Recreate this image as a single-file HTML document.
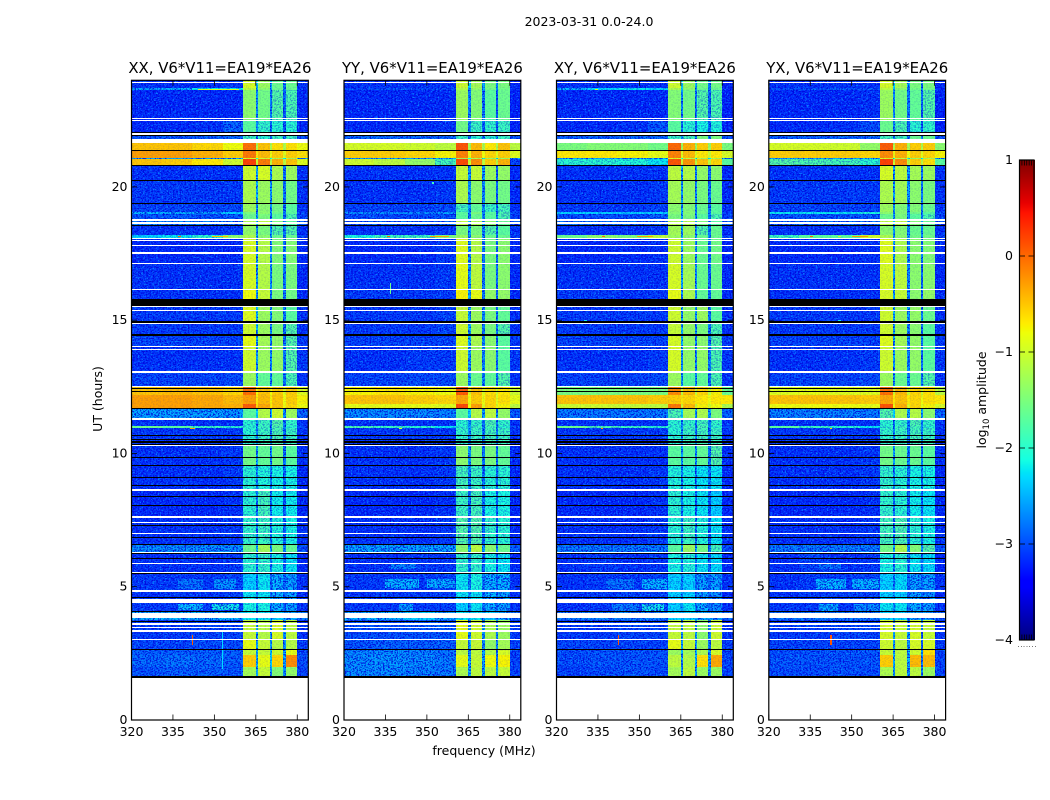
<!DOCTYPE html>
<html>
<head>
<meta charset="utf-8">
<title>2023-03-31 0.0-24.0</title>
<style>
html,body{margin:0;padding:0;background:#fff;}
svg{display:block;}
text{font-family:"DejaVu Sans","Liberation Sans",sans-serif;fill:#000;}
</style>
</head>
<body>
<svg id="chart" xmlns="http://www.w3.org/2000/svg" width="1050" height="800" viewBox="0 0 1050 800">
<defs id="chart-defs">
<filter id="speckLight" x="0" y="0" width="100%" height="100%" color-interpolation-filters="sRGB">
<feTurbulence type="fractalNoise" baseFrequency="0.55 0.75" numOctaves="2" seed="4"/>
<feColorMatrix type="matrix" values="0 0 0 0 0.05  0 0 0 0 0.6  0 0 0 0 1  9 0 0 0 -5.0"/>
</filter>
<filter id="speckDark" x="0" y="0" width="100%" height="100%" color-interpolation-filters="sRGB">
<feTurbulence type="fractalNoise" baseFrequency="0.6 0.7" numOctaves="2" seed="11"/>
<feColorMatrix type="matrix" values="0 0 0 0 0  0 0 0 0 0  0 0 0 0 0.85  0 8 0 0 -3.9"/>
</filter>
</defs>
<rect x="0" y="0" width="1050" height="800" fill="#fff"/>
<text x="589" y="26" font-size="12.5" text-anchor="middle">2023-03-31 0.0-24.0</text>
<text x="484" y="755" font-size="12.5" text-anchor="middle">frequency (MHz)</text>
<text transform="translate(102,399) rotate(-90)" font-size="12.5" text-anchor="middle">UT (hours)</text>
<text transform="translate(986,400) rotate(-90)" font-size="12.5" text-anchor="middle">log<tspan font-size="8.5" dy="3">10</tspan><tspan dy="-3"> amplitude</tspan></text>
<g id="panels"></g>
<g id="colorbar"></g>
</svg>
<script>
// Frequency channel-band edges (MHz) and UT row edges (hours)
const freqEdges = [320,331,342,353,360.4,365,365.8,370,371,375,375.8,380,384];
const timeEdges = [24,23.70,23.62,22.46,21.95,21.63,21.35,21.09,21.03,20.81,20.25,19.38,19.06,18.99,18.80,18.54,18.20,18.09,17.13,16.15,15.80,14.93,14.45,14.00,13.06,12.48,12.20,11.85,11.68,11.29,11.03,10.96,10.30,9.55,8.63,7.62,6.57,6.27,5.53,4.85,4.58,4.07,3.75,3.02,2.64,2.42,2.00,1.62];
const panelTitles = ["XX, V6*V11=EA19*EA26","YY, V6*V11=EA19*EA26","XY, V6*V11=EA19*EA26","YX, V6*V11=EA19*EA26"];
const xTickValues = [320,335,350,365,380];
const yTickValues = [0,5,10,15,20];
const colorbarTicks = [1,0,-1,-2,-3,-4];

// log10 amplitude per UT row (top to bottom) per frequency band
const xxValues = [
[-3.1,-3.1,-3.1,-3.05,-0.95,-2.3,-1.3,-2.4,-1.6,-2.6,-1.6,-3.1],
[-2.5,-2.4,-2.2,-2.2,-1.1,-2.4,-1.4,-2.5,-1.6,-2.6,-1.6,-3.1],
[-3.15,-3.15,-3.15,-3.15,-1.4,-2.6,-1.55,-2.7,-1.75,-2.8,-1.8,-3.15],
[-3.15,-3.15,-3.1,-2.85,-1.7,-2.6,-1.95,-2.8,-2.0,-2.8,-2.0,-3.15],
[-2.9,-2.9,-2.85,-2.8,-1.9,-2.6,-2.0,-2.6,-1.9,-2.6,-1.9,-2.9],
[-0.5,-0.5,-0.6,-0.8,-0.05,-1.2,-0.5,-1.2,-0.65,-1.2,-0.65,-0.8],
[-0.3,-0.3,-0.4,-0.55,-0.1,-0.7,-0.45,-0.8,-0.55,-0.9,-0.55,-0.65],
[-2.5,-2.5,-2.5,-2.4,-0.9,-2.0,-1.0,-2.0,-1.2,-2.2,-1.2,-2.4],
[-0.5,-0.55,-0.7,-1.0,0.2,-1.0,-0.1,-1.1,-0.4,-1.1,-0.5,-0.9],
[-3.1,-3.1,-3.1,-3.1,-1.0,-2.4,-0.95,-2.5,-1.2,-2.7,-1.3,-3.1],
[-3.05,-3.05,-3.05,-3.05,-1.2,-2.4,-1.3,-2.5,-1.4,-2.7,-1.55,-3.1],
[-3.0,-3.0,-3.0,-2.95,-1.3,-2.5,-1.4,-2.6,-1.55,-2.7,-1.7,-3.1],
[-2.4,-2.4,-2.4,-2.3,-1.5,-2.5,-1.4,-2.6,-1.6,-2.7,-1.7,-3.0],
[-2.9,-2.9,-2.9,-2.85,-1.6,-2.5,-1.5,-2.6,-1.7,-2.7,-1.8,-3.0],
[-2.7,-2.7,-2.7,-2.7,-1.2,-2.4,-1.1,-2.5,-1.5,-2.6,-1.7,-2.9],
[-3.1,-3.1,-3.1,-3.05,-1.35,-2.5,-1.5,-2.6,-1.75,-2.7,-1.75,-3.1],
[-2.3,-2.2,-2.0,-1.4,-1.2,-2.4,-1.4,-2.5,-1.6,-2.6,-1.6,-3.0],
[-3.15,-3.15,-3.15,-3.15,-0.95,-2.5,-1.15,-2.6,-1.45,-2.7,-1.45,-3.15],
[-3.1,-3.1,-3.1,-3.1,-0.95,-2.5,-1.15,-2.6,-1.5,-2.7,-1.5,-3.15],
[-3.1,-3.1,-3.1,-3.1,-0.8,-2.5,-1.05,-2.6,-1.5,-2.7,-1.55,-3.15],
[-3.05,-3.05,-3.05,-3.05,-0.9,-2.4,-1.3,-2.5,-1.45,-2.6,-1.7,-3.1],
[-3.05,-3.05,-3.05,-3.05,-1.0,-2.4,-1.3,-2.6,-1.5,-2.7,-1.75,-3.1],
[-3.0,-3.0,-3.0,-3.0,-0.85,-2.4,-1.25,-2.6,-1.35,-2.7,-1.75,-3.05],
[-3.1,-3.1,-3.1,-3.1,-1.0,-2.5,-1.3,-2.6,-1.35,-2.7,-1.75,-3.05],
[-3.0,-3.0,-3.0,-2.95,-1.3,-2.5,-1.65,-2.6,-1.65,-2.7,-1.8,-3.1],
[-0.5,-0.45,-0.5,-0.6,-0.05,-0.8,-0.5,-0.8,-0.55,-0.9,-0.55,-0.9],
[-0.3,-0.3,-0.35,-0.45,-0.3,-0.7,-0.45,-0.75,-0.5,-0.8,-0.55,-0.75],
[-0.3,-0.3,-0.35,-0.4,0.05,-0.6,-0.35,-0.7,-0.5,-0.8,-0.6,-0.8],
[-2.5,-2.5,-2.5,-2.55,-1.7,-2.3,-1.15,-2.4,-1.0,-2.5,-1.3,-2.8],
[-3.1,-3.1,-3.1,-3.1,-2.0,-2.6,-1.9,-2.7,-1.75,-2.7,-1.95,-3.1],
[-1.6,-1.7,-1.9,-2.0,-2.0,-2.5,-1.9,-2.6,-1.8,-2.6,-2.0,-3.0],
[-3.05,-3.05,-3.05,-3.05,-2.0,-2.6,-1.9,-2.7,-1.8,-2.7,-1.9,-3.1],
[-3.1,-3.1,-3.1,-3.05,-1.55,-2.5,-1.65,-2.6,-1.55,-2.7,-1.7,-3.1],
[-3.1,-3.1,-3.1,-3.05,-2.0,-2.6,-2.05,-2.7,-2.1,-2.7,-2.1,-3.15],
[-3.15,-3.15,-3.15,-3.1,-2.0,-2.7,-1.85,-2.7,-2.15,-2.8,-2.15,-3.15],
[-3.1,-3.1,-3.1,-3.05,-1.95,-2.7,-1.9,-2.7,-2.05,-2.8,-2.1,-3.1],
[-2.6,-2.6,-2.6,-2.6,-1.6,-2.4,-1.25,-2.5,-1.5,-2.6,-1.65,-2.9],
[-3.1,-3.1,-3.1,-3.05,-2.0,-2.7,-1.95,-2.7,-2.1,-2.8,-2.2,-3.15],
[-3.05,-3.05,-3.05,-3.0,-2.3,-2.7,-2.2,-2.8,-2.4,-2.8,-2.5,-3.1],
[-3.1,-3.05,-3.05,-3.0,-2.2,-2.6,-2.2,-2.8,-2.4,-2.8,-2.5,-3.15],
[-3.05,-3.05,-3.05,-3.0,-2.1,-2.6,-2.1,-2.7,-2.35,-2.8,-2.5,-3.1],
[-2.4,-2.4,-2.35,-2.4,-2.2,-2.4,-2.2,-2.5,-2.3,-2.5,-2.4,-2.7],
[-3.05,-3.05,-3.0,-3.0,-1.05,-2.5,-1.15,-2.5,-0.95,-2.6,-1.1,-3.1],
[-3.0,-3.0,-2.95,-2.95,-0.85,-2.5,-1.05,-2.5,-1.15,-2.6,-1.15,-3.05],
[-2.85,-2.85,-2.85,-2.85,-1.05,-2.4,-1.05,-2.4,-1.0,-2.5,-0.85,-3.0],
[-2.8,-2.75,-2.8,-2.85,-0.55,-2.4,-0.85,-2.3,-0.6,-2.4,-0.2,-2.95],
[-2.9,-2.85,-2.85,-2.9,-1.25,-2.5,-1.05,-2.5,-1.45,-2.6,-1.35,-3.0]
];
const yyValues = [
[-3.1,-3.1,-3.1,-3.1,-1.0,-2.3,-1.25,-2.4,-1.5,-2.7,-1.5,-3.15],
[-3.0,-2.9,-2.95,-2.95,-1.15,-2.4,-1.35,-2.5,-1.55,-2.7,-1.55,-3.15],
[-3.15,-3.15,-3.15,-3.15,-1.3,-2.6,-1.45,-2.7,-1.7,-2.9,-1.6,-3.2],
[-3.15,-3.15,-3.15,-3.1,-1.55,-2.6,-1.9,-2.8,-1.95,-2.9,-1.9,-3.2],
[-2.8,-2.8,-2.8,-2.8,-1.9,-2.6,-2.0,-2.6,-2.0,-2.6,-1.9,-2.9],
[-0.95,-0.95,-1.0,-1.1,0.1,-1.2,-0.45,-1.2,-0.7,-1.2,-0.5,-1.1],
[-0.55,-0.55,-0.6,-0.75,-0.15,-0.8,-0.4,-0.8,-0.6,-0.9,-0.55,-0.9],
[-2.5,-2.5,-2.5,-2.4,-1.2,-2.0,-1.2,-2.0,-1.3,-2.2,-1.3,-2.4],
[-1.0,-1.1,-1.35,-1.85,0.15,-1.0,-0.2,-1.1,-0.55,-1.1,-0.4,-3.0],
[-3.1,-3.1,-3.1,-3.1,-1.05,-2.4,-1.05,-2.5,-1.3,-2.8,-1.35,-3.15],
[-3.1,-3.1,-3.1,-3.05,-1.2,-2.5,-1.4,-2.6,-1.5,-2.8,-1.55,-3.15],
[-3.0,-3.0,-3.0,-2.95,-1.85,-2.5,-1.65,-2.6,-1.9,-2.7,-1.85,-3.1],
[-2.6,-2.6,-2.6,-2.5,-1.7,-2.5,-1.5,-2.6,-1.7,-2.7,-1.8,-3.0],
[-2.95,-2.95,-2.95,-2.9,-1.7,-2.5,-1.6,-2.6,-1.7,-2.7,-1.8,-3.0],
[-2.85,-2.85,-2.85,-2.8,-1.1,-2.4,-1.2,-2.5,-1.4,-2.6,-1.6,-2.9],
[-3.1,-3.1,-3.1,-3.05,-1.5,-2.5,-1.5,-2.6,-1.75,-2.7,-1.7,-3.1],
[-2.1,-1.9,-1.9,-1.5,-1.3,-2.4,-1.4,-2.5,-1.6,-2.6,-1.6,-3.0],
[-3.15,-3.15,-3.15,-3.05,-0.9,-2.5,-1.15,-2.7,-1.5,-2.8,-1.4,-3.15],
[-3.1,-3.1,-3.1,-3.05,-0.85,-2.5,-1.1,-2.7,-1.5,-2.8,-1.4,-3.15],
[-3.05,-3.05,-3.05,-3.05,-0.75,-2.4,-0.85,-2.7,-1.35,-2.8,-1.35,-3.15],
[-3.05,-3.05,-3.05,-3.0,-1.05,-2.4,-1.3,-2.6,-1.5,-2.7,-1.65,-3.1],
[-3.05,-3.05,-3.05,-3.0,-1.0,-2.4,-1.3,-2.7,-1.5,-2.7,-1.75,-3.1],
[-3.0,-3.0,-3.0,-3.0,-0.9,-2.4,-1.2,-2.6,-1.4,-2.7,-1.7,-3.05],
[-3.1,-3.1,-3.05,-3.05,-1.0,-2.5,-1.3,-2.6,-1.4,-2.7,-1.7,-3.05],
[-3.0,-3.0,-2.95,-2.95,-1.3,-2.5,-1.6,-2.6,-1.65,-2.7,-1.75,-3.1],
[-0.75,-0.7,-0.75,-0.8,0.05,-0.9,-0.5,-0.9,-0.65,-1.0,-0.7,-1.0],
[-0.5,-0.5,-0.55,-0.6,-0.35,-0.8,-0.55,-0.8,-0.6,-0.9,-0.65,-0.85],
[-0.85,-0.85,-0.85,-0.9,0.15,-0.8,-0.3,-0.9,-0.6,-0.9,-0.75,-1.1],
[-2.6,-2.6,-2.6,-2.65,-1.7,-2.3,-1.15,-2.5,-1.1,-2.6,-1.35,-2.85],
[-3.1,-3.1,-3.1,-3.1,-2.0,-2.6,-1.95,-2.7,-1.8,-2.7,-1.95,-3.1],
[-1.8,-1.9,-2.0,-2.2,-2.0,-2.5,-1.9,-2.6,-1.85,-2.6,-2.0,-3.0],
[-3.05,-3.05,-3.05,-3.05,-1.95,-2.6,-1.9,-2.7,-1.85,-2.7,-1.9,-3.1],
[-3.1,-3.1,-3.1,-3.05,-1.4,-2.5,-1.5,-2.7,-1.5,-2.8,-1.65,-3.15],
[-3.1,-3.1,-3.1,-3.05,-1.85,-2.6,-1.9,-2.7,-2.0,-2.8,-2.0,-3.15],
[-3.15,-3.15,-3.15,-3.1,-1.9,-2.7,-1.85,-2.7,-2.1,-2.8,-2.1,-3.15],
[-3.1,-3.1,-3.1,-3.05,-1.75,-2.7,-1.75,-2.8,-1.95,-2.9,-2.0,-3.15],
[-2.5,-2.5,-2.5,-2.5,-1.4,-2.4,-1.1,-2.5,-1.4,-2.6,-1.6,-2.85],
[-3.1,-3.1,-3.05,-3.05,-1.95,-2.7,-1.95,-2.8,-2.1,-2.9,-2.2,-3.15],
[-3.05,-3.05,-3.05,-3.0,-2.2,-2.6,-2.1,-2.7,-2.4,-2.8,-2.4,-3.1],
[-3.1,-3.05,-3.05,-3.0,-2.2,-2.6,-2.2,-2.8,-2.4,-2.8,-2.5,-3.15],
[-3.05,-3.05,-3.05,-3.0,-2.3,-2.6,-2.2,-2.7,-2.4,-2.8,-2.5,-3.1],
[-2.45,-2.4,-2.3,-2.4,-2.2,-2.4,-2.2,-2.5,-2.3,-2.5,-2.4,-2.7],
[-2.95,-2.95,-2.9,-2.9,-0.85,-2.5,-1.0,-2.5,-1.2,-2.7,-1.3,-3.05],
[-2.9,-2.85,-2.85,-2.85,-1.05,-2.4,-1.05,-2.6,-1.35,-2.7,-1.25,-3.0],
[-2.65,-2.6,-2.65,-2.75,-1.1,-2.5,-1.1,-2.5,-1.15,-2.6,-0.95,-3.0],
[-2.6,-2.55,-2.6,-2.7,-0.85,-2.4,-1.05,-2.5,-0.8,-2.6,-0.75,-3.0],
[-2.6,-2.6,-2.65,-2.7,-1.2,-2.4,-1.1,-2.5,-1.1,-2.6,-1.05,-3.0]
];
const xyValues = [
[-3.1,-3.1,-3.1,-3.1,-1.0,-2.3,-1.3,-2.4,-1.55,-2.7,-1.55,-3.15],
[-2.4,-2.3,-2.2,-2.3,-1.2,-2.4,-1.4,-2.5,-1.6,-2.7,-1.6,-3.15],
[-3.15,-3.15,-3.15,-3.15,-1.45,-2.6,-1.55,-2.7,-1.75,-2.8,-1.8,-3.2],
[-3.15,-3.15,-3.1,-2.9,-1.7,-2.6,-2.0,-2.8,-2.1,-2.8,-2.05,-3.2],
[-2.85,-2.85,-2.8,-2.8,-1.9,-2.6,-1.85,-2.6,-1.5,-2.6,-1.5,-2.9],
[-1.5,-1.45,-1.45,-1.55,0.0,-1.3,-0.4,-1.3,-0.55,-1.3,-0.55,-1.5],
[-0.7,-0.7,-0.75,-0.85,-0.15,-0.9,-0.45,-0.9,-0.7,-1.0,-0.7,-0.95],
[-2.5,-2.5,-2.5,-2.4,-0.9,-2.0,-1.1,-2.0,-1.2,-2.2,-1.2,-2.4],
[-2.0,-2.0,-2.05,-2.2,0.1,-1.0,-0.25,-1.1,-0.5,-1.1,-0.6,-1.7],
[-3.1,-3.1,-3.1,-3.1,-1.1,-2.4,-1.15,-2.6,-1.35,-2.7,-1.4,-3.15],
[-3.1,-3.1,-3.1,-3.05,-1.25,-2.5,-1.35,-2.6,-1.5,-2.7,-1.6,-3.15],
[-3.05,-3.05,-3.05,-3.0,-1.4,-2.5,-1.45,-2.6,-1.6,-2.7,-1.7,-3.1],
[-2.3,-2.3,-2.3,-2.3,-1.45,-2.5,-1.45,-2.6,-1.6,-2.7,-1.7,-3.0],
[-2.95,-2.95,-2.95,-2.85,-1.5,-2.5,-1.5,-2.6,-1.7,-2.7,-1.8,-3.0],
[-2.8,-2.8,-2.8,-2.75,-1.15,-2.4,-1.15,-2.5,-1.5,-2.6,-1.7,-2.9],
[-3.1,-3.1,-3.1,-3.05,-1.25,-2.5,-1.3,-2.6,-1.75,-2.7,-1.6,-3.1],
[-1.6,-1.4,-1.5,-1.1,-1.3,-2.4,-1.4,-2.5,-1.6,-2.6,-1.6,-3.0],
[-3.15,-3.15,-3.15,-3.1,-1.0,-2.5,-1.3,-2.6,-1.6,-2.8,-1.55,-3.15],
[-3.1,-3.1,-3.1,-3.1,-0.95,-2.5,-1.25,-2.6,-1.6,-2.8,-1.6,-3.15],
[-3.05,-3.05,-3.1,-3.05,-0.85,-2.5,-1.2,-2.6,-1.65,-2.8,-1.65,-3.15],
[-3.05,-3.05,-3.05,-3.05,-1.0,-2.4,-1.35,-2.5,-1.3,-2.7,-1.7,-3.1],
[-3.05,-3.05,-3.05,-3.05,-1.05,-2.4,-1.35,-2.6,-1.5,-2.7,-1.8,-3.1],
[-3.0,-3.0,-3.0,-3.0,-0.95,-2.4,-1.35,-2.6,-1.4,-2.7,-1.75,-3.05],
[-3.1,-3.1,-3.1,-3.05,-0.95,-2.5,-1.35,-2.6,-1.35,-2.7,-1.8,-3.05],
[-3.0,-3.0,-3.0,-2.95,-1.3,-2.5,-1.7,-2.6,-1.65,-2.7,-1.8,-3.1],
[-1.5,-1.5,-1.5,-1.5,-0.2,-1.1,-0.45,-1.1,-0.6,-1.1,-0.75,-1.6],
[-0.5,-0.5,-0.5,-0.55,-0.55,-0.7,-0.6,-0.7,-0.7,-0.8,-0.7,-0.7],
[-1.0,-1.0,-1.05,-1.1,-0.1,-1.0,-0.45,-1.0,-0.75,-1.0,-0.8,-1.2],
[-2.7,-2.7,-2.7,-2.7,-1.8,-2.3,-1.25,-2.4,-1.2,-2.5,-1.5,-2.8],
[-3.1,-3.1,-3.1,-3.1,-2.0,-2.6,-1.95,-2.7,-1.85,-2.7,-1.95,-3.1],
[-1.6,-1.8,-1.9,-2.0,-2.0,-2.5,-1.9,-2.6,-1.8,-2.6,-2.0,-3.0],
[-3.05,-3.05,-3.05,-3.05,-2.0,-2.6,-1.9,-2.7,-1.85,-2.7,-1.9,-3.1],
[-3.1,-3.1,-3.1,-3.1,-1.7,-2.5,-1.7,-2.6,-1.65,-2.7,-1.75,-3.1],
[-3.1,-3.1,-3.1,-3.05,-2.05,-2.6,-2.1,-2.7,-2.2,-2.7,-2.2,-3.15],
[-3.15,-3.15,-3.15,-3.1,-2.0,-2.7,-2.1,-2.8,-2.2,-2.8,-2.3,-3.15],
[-3.1,-3.1,-3.1,-3.05,-2.0,-2.7,-1.9,-2.7,-2.05,-2.8,-2.2,-3.1],
[-2.7,-2.7,-2.7,-2.7,-1.7,-2.4,-1.3,-2.5,-1.55,-2.6,-1.85,-2.95],
[-3.1,-3.05,-3.1,-3.05,-2.1,-2.7,-2.05,-2.7,-2.2,-2.8,-2.25,-3.15],
[-3.1,-3.05,-3.05,-3.0,-2.3,-2.7,-2.3,-2.8,-2.5,-2.8,-2.5,-3.1],
[-3.1,-3.05,-3.0,-3.0,-2.3,-2.6,-2.3,-2.8,-2.5,-2.8,-2.6,-3.15],
[-3.1,-3.05,-3.05,-3.0,-2.3,-2.6,-2.2,-2.7,-2.4,-2.8,-2.6,-3.1],
[-2.7,-2.65,-2.6,-2.7,-2.3,-2.4,-2.3,-2.5,-2.4,-2.5,-2.5,-2.8],
[-3.05,-3.05,-3.0,-3.0,-1.05,-2.5,-1.1,-2.5,-1.4,-2.6,-1.0,-3.1],
[-3.0,-3.0,-3.0,-3.0,-0.85,-2.5,-1.05,-2.5,-1.3,-2.7,-1.1,-3.05],
[-2.95,-2.9,-2.9,-2.9,-1.3,-2.4,-1.25,-2.4,-1.2,-2.5,-0.95,-3.0],
[-2.95,-2.9,-2.9,-2.9,-1.1,-2.4,-1.15,-2.4,-0.65,-2.5,-0.35,-3.0],
[-3.0,-2.95,-2.9,-2.95,-1.25,-2.5,-1.1,-2.5,-1.3,-2.6,-1.3,-3.0]
];
const yxValues = [
[-3.1,-3.1,-3.1,-3.1,-0.95,-2.3,-1.25,-2.4,-1.5,-2.6,-1.5,-3.15],
[-2.95,-2.9,-2.9,-2.9,-1.1,-2.4,-1.4,-2.5,-1.55,-2.6,-1.55,-3.15],
[-3.15,-3.15,-3.15,-3.1,-1.3,-2.6,-1.55,-2.7,-1.65,-2.8,-1.75,-3.2],
[-3.15,-3.15,-3.1,-2.95,-1.6,-2.6,-1.8,-2.8,-2.0,-2.8,-1.95,-3.2],
[-2.85,-2.85,-2.8,-2.8,-1.85,-2.6,-1.85,-2.6,-1.6,-2.6,-1.6,-2.9],
[-0.95,-0.95,-1.0,-1.35,0.05,-1.2,-0.4,-1.2,-0.55,-1.2,-0.55,-1.4],
[-0.55,-0.55,-0.55,-0.6,-0.2,-0.8,-0.4,-0.8,-0.55,-0.9,-0.6,-0.75],
[-2.5,-2.5,-2.5,-2.4,-0.9,-2.0,-1.1,-2.0,-1.3,-2.2,-1.2,-2.4],
[-1.75,-1.8,-1.85,-2.0,0.2,-1.0,-0.2,-1.1,-0.55,-1.1,-0.65,-1.7],
[-3.1,-3.1,-3.1,-3.1,-0.95,-2.4,-1.1,-2.5,-1.25,-2.7,-1.3,-3.1],
[-3.05,-3.05,-3.05,-3.05,-1.2,-2.4,-1.25,-2.5,-1.4,-2.7,-1.5,-3.1],
[-3.0,-3.0,-3.0,-3.0,-1.3,-2.5,-1.45,-2.6,-1.45,-2.7,-1.6,-3.1],
[-2.2,-2.2,-2.2,-2.1,-1.4,-2.5,-1.45,-2.6,-1.55,-2.7,-1.7,-3.0],
[-2.9,-2.9,-2.9,-2.85,-1.6,-2.5,-1.5,-2.6,-1.7,-2.7,-1.8,-3.0],
[-2.8,-2.8,-2.8,-2.75,-1.1,-2.4,-1.1,-2.5,-1.45,-2.6,-1.6,-2.9],
[-3.1,-3.1,-3.1,-3.05,-1.4,-2.5,-1.45,-2.6,-1.6,-2.7,-1.6,-3.1],
[-1.9,-1.7,-1.7,-1.0,-1.2,-2.4,-1.4,-2.5,-1.55,-2.6,-1.55,-3.0],
[-3.15,-3.15,-3.15,-3.1,-0.9,-2.5,-1.2,-2.6,-1.4,-2.7,-1.45,-3.15],
[-3.1,-3.1,-3.1,-3.1,-0.95,-2.5,-1.1,-2.6,-1.4,-2.7,-1.4,-3.15],
[-3.1,-3.1,-3.1,-3.1,-0.95,-2.5,-1.05,-2.6,-1.4,-2.7,-1.35,-3.15],
[-3.05,-3.05,-3.05,-3.05,-1.0,-2.4,-1.3,-2.5,-1.35,-2.6,-1.6,-3.1],
[-3.05,-3.05,-3.05,-3.05,-1.0,-2.4,-1.3,-2.6,-1.4,-2.7,-1.7,-3.1],
[-3.0,-3.0,-3.0,-3.0,-0.9,-2.4,-1.25,-2.6,-1.35,-2.7,-1.7,-3.05],
[-3.1,-3.1,-3.1,-3.05,-1.0,-2.5,-1.3,-2.6,-1.35,-2.7,-1.7,-3.05],
[-3.0,-3.0,-3.0,-2.95,-1.3,-2.5,-1.6,-2.6,-1.6,-2.7,-1.75,-3.1],
[-0.9,-0.85,-0.9,-0.9,-0.05,-1.0,-0.45,-1.0,-0.6,-1.0,-0.65,-1.1],
[-0.5,-0.5,-0.5,-0.55,-0.35,-0.7,-0.5,-0.7,-0.6,-0.8,-0.65,-0.7],
[-0.8,-0.8,-0.8,-0.85,0.1,-0.8,-0.4,-0.9,-0.6,-0.9,-0.75,-0.95],
[-2.65,-2.65,-2.65,-2.7,-1.75,-2.3,-1.2,-2.4,-1.15,-2.5,-1.4,-2.8],
[-3.1,-3.1,-3.1,-3.1,-2.0,-2.6,-1.95,-2.7,-1.8,-2.7,-1.95,-3.1],
[-1.7,-1.9,-2.0,-2.2,-2.0,-2.5,-1.9,-2.6,-1.85,-2.6,-2.0,-3.0],
[-3.05,-3.05,-3.05,-3.05,-1.95,-2.6,-1.9,-2.7,-1.85,-2.7,-1.9,-3.1],
[-3.1,-3.1,-3.1,-3.05,-1.55,-2.5,-1.6,-2.6,-1.6,-2.7,-1.7,-3.1],
[-3.1,-3.1,-3.1,-3.05,-1.95,-2.6,-2.0,-2.7,-2.1,-2.7,-2.1,-3.15],
[-3.15,-3.15,-3.15,-3.1,-1.95,-2.7,-2.0,-2.8,-2.15,-2.8,-2.2,-3.15],
[-3.1,-3.1,-3.1,-3.05,-1.85,-2.7,-1.8,-2.7,-2.0,-2.8,-2.1,-3.1],
[-2.7,-2.7,-2.7,-2.7,-1.55,-2.4,-1.2,-2.5,-1.45,-2.6,-1.75,-2.95],
[-3.1,-3.0,-3.1,-3.05,-2.1,-2.7,-2.0,-2.7,-2.2,-2.8,-2.25,-3.15],
[-3.1,-3.05,-3.05,-3.0,-2.3,-2.7,-2.25,-2.8,-2.5,-2.8,-2.5,-3.1],
[-3.1,-3.05,-3.0,-3.0,-2.3,-2.6,-2.3,-2.8,-2.5,-2.8,-2.6,-3.15],
[-3.05,-3.05,-3.05,-3.0,-2.2,-2.6,-2.2,-2.7,-2.4,-2.8,-2.5,-3.1],
[-2.75,-2.7,-2.7,-2.7,-2.3,-2.4,-2.3,-2.5,-2.4,-2.5,-2.5,-2.8],
[-3.05,-3.05,-3.0,-3.0,-0.95,-2.5,-1.05,-2.5,-0.95,-2.7,-1.05,-3.1],
[-3.0,-3.0,-3.0,-3.0,-1.0,-2.5,-1.1,-2.5,-0.95,-2.7,-0.95,-3.05],
[-2.95,-2.9,-2.9,-2.9,-1.05,-2.4,-1.1,-2.4,-1.0,-2.5,-0.65,-3.0],
[-2.9,-2.9,-2.9,-2.9,-0.55,-2.4,-1.1,-2.4,-0.45,-2.6,-0.45,-3.0],
[-2.95,-2.95,-2.9,-2.95,-1.2,-2.5,-1.1,-2.5,-1.1,-2.6,-1.3,-3.0]
];
const panelValues = [xxValues,yyValues,xyValues,yxValues];

// Ionospheric / RFI blobs near 4-6 UT: panel, UT top, UT bottom, start MHz, end MHz, log10 amplitude
const blobPanels = [0,0,0,0,1,1,1,1,1,2,2,2,2,3,3,3,3,3];
const blobTop    = [4.35,4.35,5.3,5.3,4.35,5.3,5.3,5.85,5.0,4.35,4.35,5.3,5.3,5.3,5.3,4.35,4.35,5.85];
const blobBottom = [4.12,4.12,4.9,4.9,4.1,4.95,4.95,5.65,4.9,4.1,4.1,4.9,4.9,4.9,4.9,4.1,4.1,5.65];
const blobFreqA  = [337,349,337,350,340,335,350,337,338,340,351,338,351,337,350,338,351,338];
const blobFreqB  = [346,359,346,358,345,347,360,346,345,350,359,348,360,348,360,345,360,346];
const blobValues = [-2.35,-2.15,-2.75,-2.55,-2.5,-2.4,-2.45,-2.65,-2.5,-2.7,-2.15,-2.75,-2.4,-2.4,-2.4,-2.45,-2.6,-2.75];

// Flagged UT intervals: fully white (no data)
const whiteFlagStarts = [23.94,22.57,22.50,22.01,21.80,18.80,18.69,18.09,18.01,17.82,17.56,17.15,16.17,15.54,15.38,14.89,14.03,13.92,13.10,12.53,11.33,10.32,8.67,7.65,7.43,7.02,6.30,5.89,5.57,4.88,4.54,4.03,3.64,3.49,3.38,3.04];
const whiteFlagEnds   = [23.90,22.53,22.46,21.95,21.63,18.74,18.61,18.03,17.97,17.77,17.49,17.11,16.12,15.48,15.35,14.84,13.98,13.88,13.02,12.48,11.26,10.28,8.59,7.58,7.39,6.98,6.27,5.85,5.53,4.82,4.39,3.83,3.58,3.45,3.30,3.00];
// Flagged UT intervals: fully black (zero amplitude)
const blackFlagStarts = [22.05,21.95,21.37,20.83,20.26,19.40,18.56,15.80,14.97,14.48,12.46,12.36,11.71,10.69,10.54,10.45,10.36,9.87,9.57,9.12,8.82,8.41,8.07,7.32,6.87,6.60,6.27,6.08,5.53,4.62,4.09,3.73,2.66,1.65];
const blackFlagEnds   = [22.01,21.91,21.33,20.79,20.23,19.36,18.52,15.54,14.89,14.41,12.42,12.33,11.65,10.66,10.51,10.41,10.32,9.83,9.53,9.08,8.78,8.35,8.03,7.28,6.83,6.55,6.23,6.04,5.50,4.56,4.05,3.68,2.63,1.59];

// Narrow RFI spikes: panel, UT top, UT bottom, start MHz, end MHz, log10 amplitude
const spikePanels = [0,0,0,0,1,1,1,2,2,2,3,3,3,0,2,3,1,2,3,0,1,2,3];
const spikeTop    = [23.67,18.17,18.17,3.2,18.17,18.17,16.4,23.67,18.17,18.17,18.17,18.17,18.17,10.95,10.95,10.95,10.95,3.2,3.2,3.3,20.2,15,15];
const spikeBottom = [23.63,18.11,18.11,2.8,18.11,18.11,16.0,23.63,18.11,18.11,18.11,18.11,18.11,10.9,10.9,10.9,10.9,2.8,2.8,1.9,20.1,14.9,14.9];
const spikeFreqA  = [344,349,337,342,335.5,351,336.5,334,349,336.5,350,335,345,341,336,342,340,342.3,342.3,352.6,352,330,345];
const spikeFreqB  = [359,355,338,342.4,336.5,358,337,335,355,337.5,356,336,346,343,337,343,341,342.7,342.7,352.9,352.4,331,346];
const spikeValues = [-0.95,-0.45,0.0,0.1,0.0,-0.3,-1.6,-0.9,-0.3,0.0,-0.25,0.0,-1.0,-0.3,-0.2,-0.5,-1.0,0.1,0.1,-2.3,-1.9,-2.2,-2.2];

// Axis geometry
const panelLeft = [131.5,344,556.5,768.8];
const panelWidth = 176.8;
const plotTop = 80.3;
const plotBottom = 720;
const freqMin = 320;
const freqMax = 384;
const timeMax = 24;
const cbarLeft = 1019.5;
const cbarRight = 1034;
const cbarTop = 160;
const cbarBottom = 640;
const cbarMin = -4;
const cbarMax = 1;
const faintThreshold = -2.3;
const midThreshold = -1.7;

function xScale(panel, mhz) {
  return panelLeft[panel] + (mhz - freqMin) / (freqMax - freqMin) * panelWidth;
}
function yScale(ut) {
  return plotBottom - ut / timeMax * (plotBottom - plotTop);
}
function cbarScale(v) {
  return cbarBottom - (v - cbarMin) / (cbarMax - cbarMin) * (cbarBottom - cbarTop);
}
function ramp(points, t) {
  for (let i = 1; i < points.length; i++) {
    if (t <= points[i][0]) {
      const a = points[i - 1], b = points[i];
      return a[1] + (b[1] - a[1]) * (t - a[0]) / (b[0] - a[0]);
    }
  }
  return points[points.length - 1][1];
}
function jet(v) {
  const t = Math.max(0, Math.min(1, (v - cbarMin) / (cbarMax - cbarMin)));
  const r = ramp([[0,0],[0.35,0],[0.66,1],[0.89,1],[1,0.5]], t);
  const g = ramp([[0,0],[0.125,0],[0.375,1],[0.64,1],[0.91,0],[1,0]], t);
  const b = ramp([[0,0.5],[0.11,1],[0.34,1],[0.65,0],[1,0]], t);
  return 'rgb(' + Math.round(r * 255) + ',' + Math.round(g * 255) + ',' + Math.round(b * 255) + ')';
}
const NS = 'http://www.w3.org/2000/svg';
function make(tag, attrs, parent) {
  const el = document.createElementNS(NS, tag);
  for (const k in attrs) el.setAttribute(k, attrs[k]);
  parent.appendChild(el);
  return el;
}
function pixelRect(x0, x1, y0, y1, fill, parent) {
  const rx0 = Math.round(x0), rx1 = Math.round(x1), ry0 = Math.round(y0);
  const ry1 = Math.max(ry0 + 1, Math.round(y1));
  return make('rect', {x: rx0, y: ry0, width: Math.max(1, rx1 - rx0), height: ry1 - ry0, fill: fill, 'shape-rendering': 'crispEdges'}, parent);
}

const panelsRoot = document.getElementById('panels');
const defsRoot = document.getElementById('chart-defs');
panelTitles.forEach(function (title, p) {
  const g = make('g', {}, panelsRoot);
  
  

  const faintClip = make('clipPath', {id: 'faint-cells-' + p}, defsRoot);
  const midClip = make('clipPath', {id: 'mid-cells-' + p}, defsRoot);
  const values = panelValues[p];
  values.forEach(function (row, r) {
    row.forEach(function (v, c) {
      const x0 = xScale(p, freqEdges[c]), x1 = xScale(p, freqEdges[c + 1]);
      const y0 = yScale(timeEdges[r]), y1 = yScale(timeEdges[r + 1]);
      const cell = pixelRect(x0, x1, y0, y1, jet(v), g);
      
      
      if (v < faintThreshold) {
        pixelRect(x0, x1, y0, y1, '#000', faintClip);
      } else if (v < midThreshold) {
        pixelRect(x0, x1, y0, y1, '#000', midClip);
      }
    });
  });

  blobPanels.forEach(function (bp, i) {
    if (bp !== p) return;
    const blob = pixelRect(xScale(p, blobFreqA[i]), xScale(p, blobFreqB[i]), yScale(blobTop[i]), yScale(blobBottom[i]), jet(blobValues[i]), g);
    
    
  });

  // grain texture: strong on faint cells, moderate on mid cells, very weak on bright ones
  const grainX = Math.round(xScale(p, freqMin));
  const grainY = Math.round(yScale(timeMax));
  const grainW = Math.round(panelWidth);
  const grainH = Math.round(yScale(timeEdges[timeEdges.length - 1])) - grainY;
  const grainStrong = make('g', {'clip-path': 'url(#faint-cells-' + p + ')'}, g);
  
  
  make('rect', {x: grainX, y: grainY, width: grainW, height: grainH, filter: 'url(#speckLight)', opacity: 0.7}, grainStrong);
  make('rect', {x: grainX, y: grainY, width: grainW, height: grainH, filter: 'url(#speckDark)', opacity: 0.8}, grainStrong);
  const grainMid = make('g', {'clip-path': 'url(#mid-cells-' + p + ')'}, g);
  
  
  make('rect', {x: grainX, y: grainY, width: grainW, height: grainH, filter: 'url(#speckDark)', opacity: 0.3}, grainMid);
  const grainWeak = make('rect', {x: grainX, y: grainY, width: grainW, height: grainH, filter: 'url(#speckDark)', opacity: 0.1}, g);
  
  

  spikePanels.forEach(function (sp, i) {
    if (sp !== p) return;
    const spike = pixelRect(xScale(p, spikeFreqA[i]), xScale(p, spikeFreqB[i]), yScale(spikeTop[i]), yScale(spikeBottom[i]), jet(spikeValues[i]), g);
    
    
  });

  whiteFlagStarts.forEach(function (u, i) {
    const flag = pixelRect(xScale(p, freqMin), xScale(p, freqMax), yScale(u), yScale(whiteFlagEnds[i]), '#fff', g);
    
    
  });
  blackFlagStarts.forEach(function (u, i) {
    const flag = pixelRect(xScale(p, freqMin), xScale(p, freqMax), yScale(u), yScale(blackFlagEnds[i]), '#000', g);
    
    
  });

  const frame = make('rect', {x: xScale(p, freqMin), y: plotTop, width: panelWidth, height: plotBottom - plotTop, fill: 'none', stroke: '#000', 'stroke-width': 1.2}, g);
  
  

  const titleEl = make('text', {x: xScale(p, freqMin) + panelWidth / 2, y: 73, 'font-size': 14.9, 'text-anchor': 'middle'}, g);
  titleEl.textContent = title;
  
  

  xTickValues.forEach(function (f) {
    const x = xScale(p, f);
    const t1 = make('line', {x1: x, x2: x, y1: plotBottom, y2: plotBottom - 5.5, stroke: '#000', 'stroke-width': 0.8}, g);
    
    
    const t2 = make('line', {x1: x, x2: x, y1: plotTop, y2: plotTop + 5.5, stroke: '#000', 'stroke-width': 0.8}, g);
    
    
    const lab = make('text', {x: x, y: 736, 'font-size': 12.5, 'text-anchor': 'middle'}, g);
    lab.textContent = String(f);
    
    
  });
  yTickValues.forEach(function (u) {
    const y = yScale(u);
    const left = xScale(p, freqMin), right = left + panelWidth;
    const t1 = make('line', {x1: left, x2: left + 5.5, y1: y, y2: y, stroke: '#000', 'stroke-width': 0.8}, g);
    
    
    const t2 = make('line', {x1: right, x2: right - 5.5, y1: y, y2: y, stroke: '#000', 'stroke-width': 0.8}, g);
    
    
    const lab = make('text', {x: left - 4, y: y + 4, 'font-size': 12.5, 'text-anchor': 'end'}, g);
    lab.textContent = String(u);
    
    
  });
});

// Colorbar
const cbarRoot = document.getElementById('colorbar');


for (let py = cbarTop; py < cbarBottom; py++) {
  const level = cbarMax - (py + 0.5 - cbarTop) / (cbarBottom - cbarTop) * (cbarMax - cbarMin);
  const strip = make('rect', {x: Math.round(cbarLeft), y: py, width: Math.round(cbarRight - cbarLeft), height: 1, fill: jet(level), 'shape-rendering': 'crispEdges'}, cbarRoot);
  
  
}
const cbarFrame = make('rect', {x: cbarLeft, y: cbarTop, width: cbarRight - cbarLeft, height: cbarBottom - cbarTop, fill: 'none', stroke: '#000', 'stroke-width': 1.2}, cbarRoot);


colorbarTicks.forEach(function (v) {
  const y = cbarScale(v);
  const t1 = make('line', {x1: cbarLeft, x2: cbarLeft + 5.5, y1: y, y2: y, stroke: '#000', 'stroke-width': 0.8}, cbarRoot);
  
  
  const t2 = make('line', {x1: cbarRight, x2: cbarRight - 5.5, y1: y, y2: y, stroke: '#000', 'stroke-width': 0.8}, cbarRoot);
  
  
  const lab = make('text', {x: 1013, y: y + 4, 'font-size': 12.5, 'text-anchor': 'end'}, cbarRoot);
  lab.textContent = v < 0 ? '\u2212' + Math.abs(v) : String(v);
  
  
});
for (let i = 1; i <= 5; i++) {
  const x = cbarLeft + i * (cbarRight - cbarLeft) / 6;
  const t1 = make('line', {x1: x, x2: x, y1: cbarTop, y2: cbarTop + 5.5, stroke: '#000', 'stroke-width': 0.8}, cbarRoot);
  
  
  const t2 = make('line', {x1: x, x2: x, y1: cbarBottom, y2: cbarBottom - 5.5, stroke: '#000', 'stroke-width': 0.8}, cbarRoot);
  
  
}
for (let i = 0; i < 7; i++) {
  const dot = make('rect', {x: 1018 + i * 2.8, y: 646, width: 1, height: 1, fill: '#777', 'shape-rendering': 'crispEdges'}, cbarRoot);
  
  
}
</script>
</body>
</html>
